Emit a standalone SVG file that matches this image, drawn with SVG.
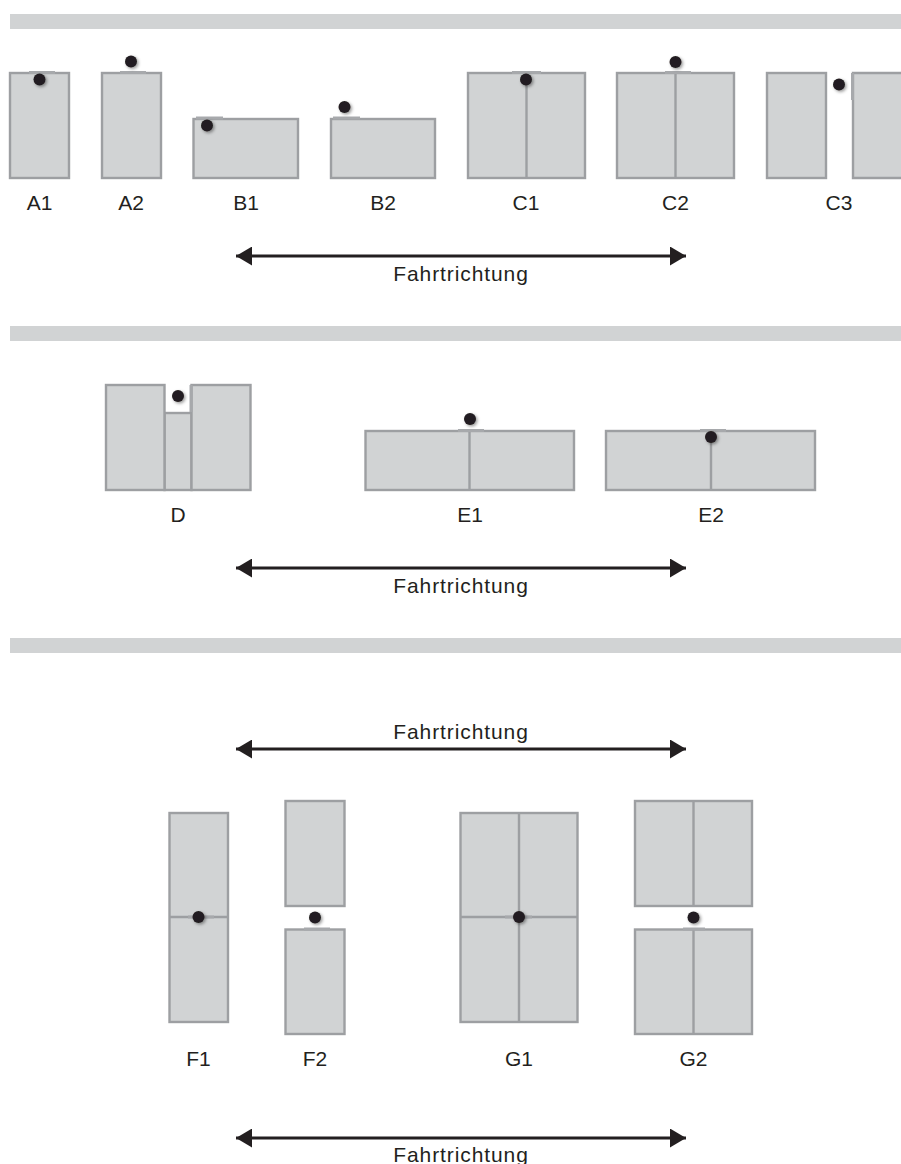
<svg xmlns="http://www.w3.org/2000/svg" width="901" height="1164" viewBox="0 0 901 1164">
<defs>
<style>
.bar{fill:#d1d3d4}
.r{fill:#d1d3d4;stroke:#9d9fa2;stroke-width:2.4}
.l{fill:none;stroke:#9d9fa2;stroke-width:2.4}
.s{fill:none;stroke:#a7a9ac;stroke-width:3}
.d{fill:#231f20;filter:url(#sh)}
.a{stroke:#231f20;stroke-width:3;fill:none;marker-start:url(#hs);marker-end:url(#he)}
text{font-family:"Liberation Sans",Arial,sans-serif;font-size:21px;fill:#231f20;text-anchor:middle}
.f{letter-spacing:.9px}
</style>
<filter id="sh" x="-80%" y="-80%" width="280%" height="280%"><feDropShadow dx="1.5" dy="1.5" stdDeviation="1.8" flood-color="#000" flood-opacity=".4"/></filter>
<marker id="he" markerUnits="userSpaceOnUse" markerWidth="17" markerHeight="19" refX="16" refY="9.5" orient="auto"><path d="M0 0L16 9.5L0 19Z" fill="#231f20"/></marker>
<marker id="hs" markerUnits="userSpaceOnUse" markerWidth="17" markerHeight="19" refX="0" refY="9.5" orient="auto"><path d="M16 0L0 9.5L16 19Z" fill="#231f20"/></marker>
</defs>
<g id="bars">
<rect class="bar" x="10" y="14" width="891" height="15"/>
<rect class="bar" x="10" y="326" width="891" height="15"/>
<rect class="bar" x="10" y="638" width="891" height="15"/>
</g>
<g id="connectors">
<path class="a" d="M236 256H686"/>
<path class="a" d="M236 568H686"/>
<path class="a" d="M236 749H686"/>
<path class="a" d="M236 1138H686"/>
</g>
<g id="A1"><rect class="r" x="10" y="73" width="59" height="105"/><path class="s" d="M29 72.500H55"/><circle class="d" cx="39.500" cy="79.500" r="6"/><text x="39.500" y="210">A1</text></g>
<g id="A2"><rect class="r" x="102" y="73" width="59" height="105"/><path class="s" d="M120 72.500H146"/><circle class="d" cx="131" cy="61.500" r="6"/><text x="131" y="210">A2</text></g>
<g id="B1"><rect class="r" x="193.500" y="119" width="104.500" height="59"/><path class="s" d="M196 118H223"/><circle class="d" cx="207" cy="125.500" r="6"/><text x="246" y="210">B1</text></g>
<g id="B2"><rect class="r" x="331" y="119" width="104" height="59"/><path class="s" d="M333 118H360"/><circle class="d" cx="344.500" cy="107" r="6"/><text x="383" y="210">B2</text></g>
<g id="C1"><rect class="r" x="468" y="73" width="117" height="105"/><path class="l" d="M526.500 73V178"/><path class="s" d="M512 72.500H541"/><circle class="d" cx="526" cy="79.500" r="6"/><text x="526" y="210">C1</text></g>
<g id="C2"><rect class="r" x="617" y="73" width="117" height="105"/><path class="l" d="M675.500 73V178"/><path class="s" d="M665 72.500H691"/><circle class="d" cx="675.500" cy="62" r="6"/><text x="675.500" y="210">C2</text></g>
<g id="C3"><rect class="r" x="767" y="73" width="59" height="105"/><path class="r" d="M902 73H853V178H902"/><path class="s" d="M852.500 73V100"/><circle class="d" cx="839" cy="84.500" r="6"/><text x="839" y="210">C3</text></g>
<g id="D"><rect class="r" x="164.500" y="413" width="27" height="77"/><rect class="r" x="106" y="385" width="58.500" height="105"/><rect class="r" x="191.500" y="385" width="59" height="105"/><path class="s" d="M191 385V412"/><circle class="d" cx="178" cy="396" r="6"/><text x="178" y="522">D</text></g>
<g id="E1"><rect class="r" x="365.500" y="431" width="208.500" height="59"/><path class="l" d="M469.500 431V490"/><path class="s" d="M458 430.500H484"/><circle class="d" cx="470" cy="419" r="6"/><text x="470" y="522">E1</text></g>
<g id="E2"><rect class="r" x="606" y="431" width="209" height="59"/><path class="l" d="M711 431V490"/><path class="s" d="M700 430.500H726"/><circle class="d" cx="711" cy="437" r="6"/><text x="711" y="522">E2</text></g>
<g id="F1"><rect class="r" x="169.500" y="813" width="58.500" height="209"/><path class="l" d="M169.500 917H228"/><path class="s" d="M188 917H214"/><circle class="d" cx="198.500" cy="917" r="6"/><text x="198.500" y="1066">F1</text></g>
<g id="F2"><rect class="r" x="285.500" y="801" width="59" height="105"/><rect class="r" x="285.500" y="929.500" width="59" height="104.500"/><path class="s" d="M304 929H330"/><circle class="d" cx="315" cy="917.500" r="6"/><text x="315" y="1066">F2</text></g>
<g id="G1"><rect class="r" x="460.500" y="813" width="117" height="209"/><path class="l" d="M460.500 917H577.500M519 813V1022"/><path class="s" d="M505 917H532"/><circle class="d" cx="519" cy="917" r="6"/><text x="519" y="1066">G1</text></g>
<g id="G2"><rect class="r" x="635" y="801" width="117" height="105"/><rect class="r" x="635" y="929.500" width="117" height="104.500"/><path class="l" d="M693.500 801V906M693.500 929.500V1034"/><path class="s" d="M683 929H705"/><circle class="d" cx="693.500" cy="917.500" r="6"/><text x="693.500" y="1066">G2</text></g>
<g id="labels">
<text class="f" x="461" y="281">Fahrtrichtung</text>
<text class="f" x="461" y="593">Fahrtrichtung</text>
<text class="f" x="461" y="739">Fahrtrichtung</text>
<text class="f" x="461" y="1162">Fahrtrichtung</text>
</g>
</svg>
